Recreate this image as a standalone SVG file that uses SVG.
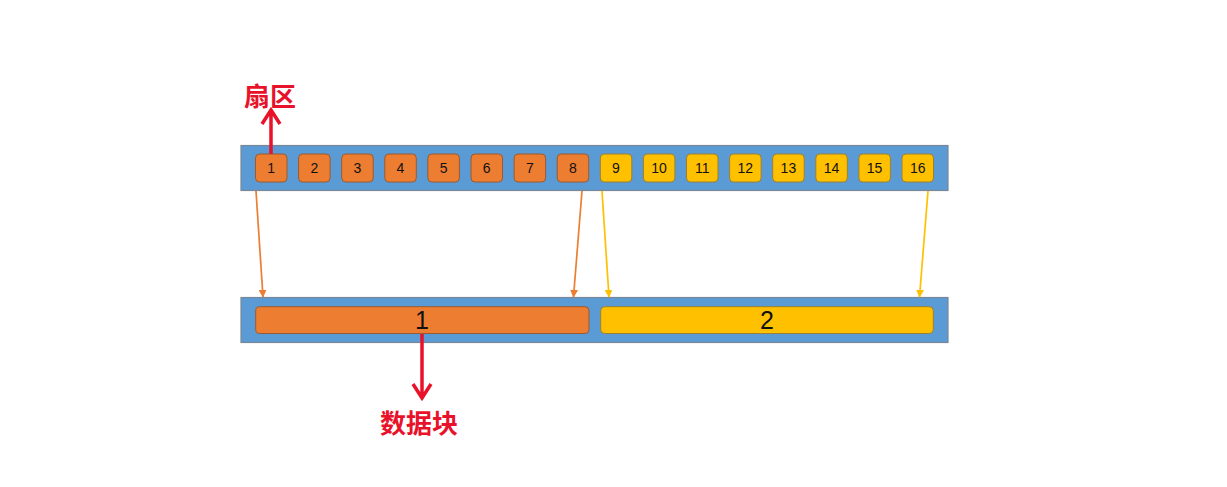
<svg xmlns="http://www.w3.org/2000/svg" width="1227" height="487" viewBox="0 0 1227 487">
<defs>
<style>
.bar{fill:#5B9BD5;stroke:#7a8796;stroke-width:1.2}
.o{fill:#ED7D31;stroke:#9a5a2e;stroke-width:1}
.y{fill:#FFC000;stroke:#9a8030;stroke-width:1}
.n{font-family:"Liberation Sans",Arial,sans-serif;font-size:14px;fill:#111;text-anchor:middle;dominant-baseline:central}
.big{font-family:"Liberation Sans",sans-serif;font-size:25px;fill:#111;text-anchor:middle;dominant-baseline:central;font-weight:300}
.lbl{font-family:"Noto Sans CJK SC",sans-serif;font-size:26px;font-weight:bold;fill:#E8132A;text-anchor:middle}
.ao{stroke:#ED7D31;stroke-width:1.7;fill:none}
.ay{stroke:#FFC000;stroke-width:1.7;fill:none}
.red{stroke:#E8132A;stroke-width:3.5;fill:none}
</style>
<marker id="mo" viewBox="0 0 10 10" refX="9" refY="5" markerWidth="8" markerHeight="8" orient="auto" markerUnits="userSpaceOnUse"><path d="M0,0 L10,5 L0,10 z" fill="#ED7D31"/></marker>
<marker id="my" viewBox="0 0 10 10" refX="9" refY="5" markerWidth="8" markerHeight="8" orient="auto" markerUnits="userSpaceOnUse"><path d="M0,0 L10,5 L0,10 z" fill="#FFC000"/></marker>
</defs>
<g id="sectors">
<rect class="bar" x="241" y="145.5" width="707" height="45"/>
</g>
<g id="sector-boxes">
<g id="s1"><rect class="o" x="255.5" y="154" width="31.5" height="28" rx="4"/><text class="n" x="271.2" y="168">1</text></g>
<g id="s2"><rect class="o" x="298.6" y="154" width="31.5" height="28" rx="4"/><text class="n" x="314.3" y="168">2</text></g>
<g id="s3"><rect class="o" x="341.7" y="154" width="31.5" height="28" rx="4"/><text class="n" x="357.4" y="168">3</text></g>
<g id="s4"><rect class="o" x="384.8" y="154" width="31.5" height="28" rx="4"/><text class="n" x="400.5" y="168">4</text></g>
<g id="s5"><rect class="o" x="427.9" y="154" width="31.5" height="28" rx="4"/><text class="n" x="443.6" y="168">5</text></g>
<g id="s6"><rect class="o" x="471" y="154" width="31.5" height="28" rx="4"/><text class="n" x="486.7" y="168">6</text></g>
<g id="s7"><rect class="o" x="514.1" y="154" width="31.5" height="28" rx="4"/><text class="n" x="529.8" y="168">7</text></g>
<g id="s8"><rect class="o" x="557.2" y="154" width="31.5" height="28" rx="4"/><text class="n" x="572.9" y="168">8</text></g>
<g id="s9"><rect class="y" x="600.3" y="154" width="31.5" height="28" rx="4"/><text class="n" x="616" y="168">9</text></g>
<g id="s10"><rect class="y" x="643.4" y="154" width="31.5" height="28" rx="4"/><text class="n" x="659.1" y="168">10</text></g>
<g id="s11"><rect class="y" x="686.5" y="154" width="31.5" height="28" rx="4"/><text class="n" x="702.2" y="168">11</text></g>
<g id="s12"><rect class="y" x="729.6" y="154" width="31.5" height="28" rx="4"/><text class="n" x="745.3" y="168">12</text></g>
<g id="s13"><rect class="y" x="772.7" y="154" width="31.5" height="28" rx="4"/><text class="n" x="788.4" y="168">13</text></g>
<g id="s14"><rect class="y" x="815.8" y="154" width="31.5" height="28" rx="4"/><text class="n" x="831.5" y="168">14</text></g>
<g id="s15"><rect class="y" x="858.9" y="154" width="31.5" height="28" rx="4"/><text class="n" x="874.6" y="168">15</text></g>
<g id="s16"><rect class="y" x="902" y="154" width="31.5" height="28" rx="4"/><text class="n" x="917.7" y="168">16</text></g>
</g>
<g id="blocks">
<rect class="bar" x="241" y="297.5" width="707" height="45"/>
<g id="b1"><rect class="o" x="255.7" y="306.7" width="333.3" height="26.8" rx="4"/><text class="big" x="422" y="320">1</text></g>
<g id="b2"><rect class="y" x="600.7" y="306.7" width="332.6" height="26.8" rx="4"/><text class="big" x="767" y="320">2</text></g>
</g>
<g id="label-sector"><text class="lbl" x="270" y="106">扇区</text></g>
<g id="label-block"><text class="lbl" x="419" y="433">数据块</text></g>
<g id="connectors">
<line class="ao" x1="256" y1="191" x2="263" y2="297" marker-end="url(#mo)"/>
<line class="ao" x1="582" y1="191" x2="573.5" y2="297" marker-end="url(#mo)"/>
<line class="ay" x1="602" y1="191" x2="609" y2="297" marker-end="url(#my)"/>
<line class="ay" x1="928" y1="191" x2="919.5" y2="297" marker-end="url(#my)"/>
<path class="red" d="M271,154 V110 M262,124 L271,110 L280,124"/>
<path class="red" d="M422,334 V398 M413,384 L422,398 L431,384"/>
</g>
</svg>
